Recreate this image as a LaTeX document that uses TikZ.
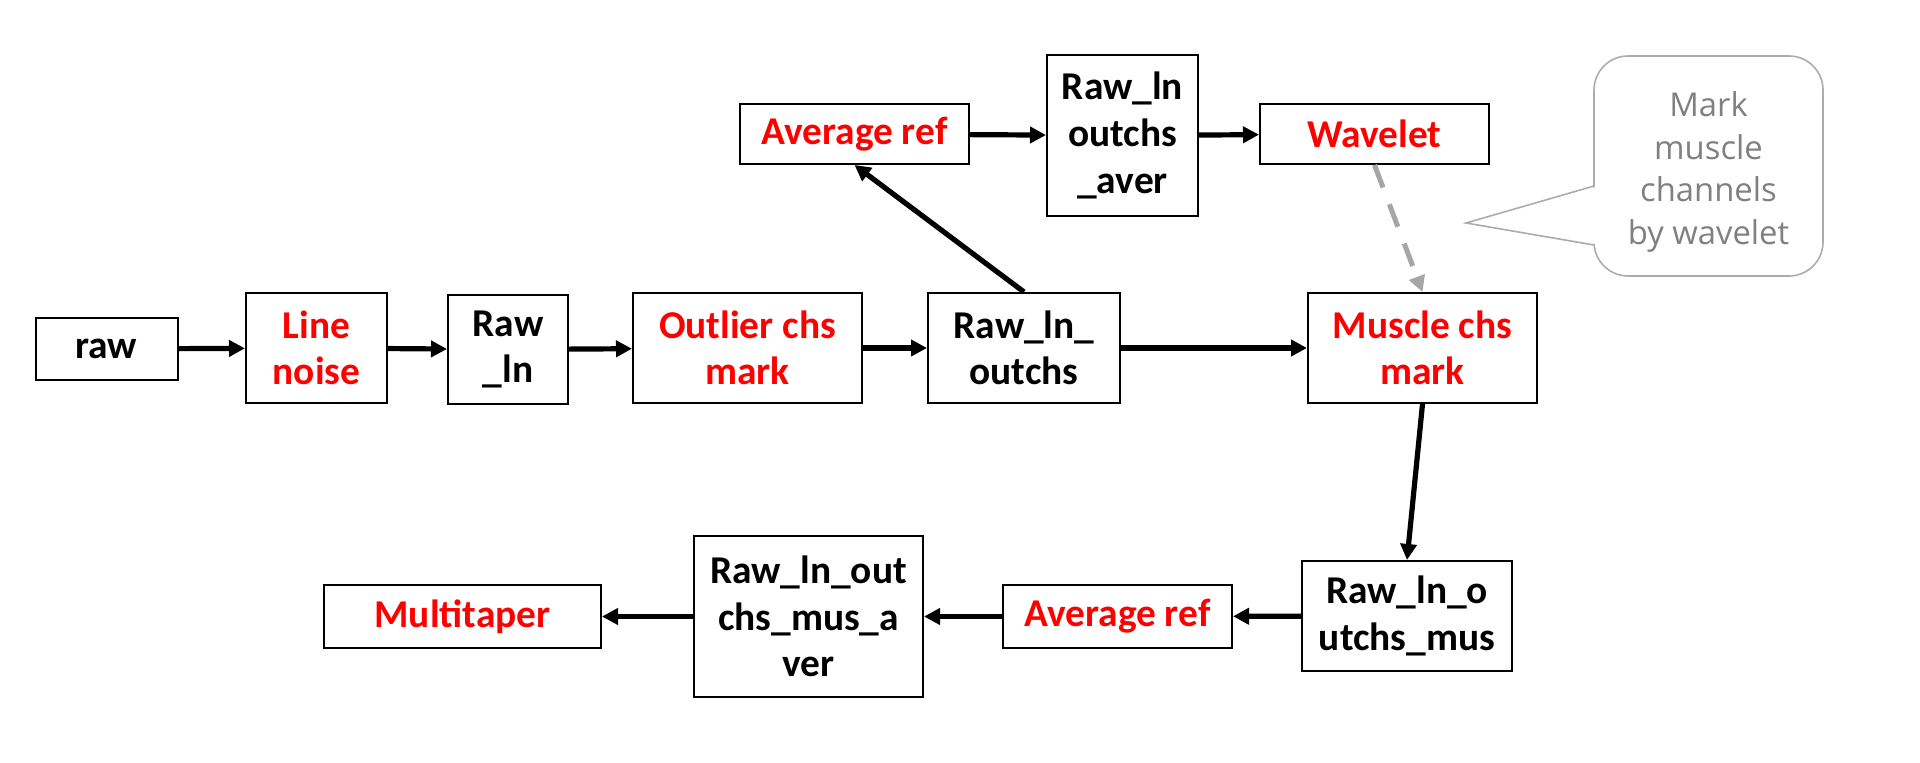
\documentclass[tikz,border=0pt]{standalone}
\usepackage{fontspec}
\setmainfont{Carlito}
\newfontfamily\notefont{Open Sans}
\usetikzlibrary{arrows.meta}
\definecolor{notegray}{RGB}{128,128,128}
\definecolor{linegray}{RGB}{172,172,172}
\definecolor{dashgray}{RGB}{166,166,166}

\begin{document}
\begin{tikzpicture}[x=.5pt,y=-.5pt,
  box/.style={draw,line width=1pt,inner sep=0pt,align=center,font=\fontsize{19.7}{23.3}\selectfont\bfseries},
  hot/.style={box,text=red},
  arr/.style={line width=2.6pt,-{Triangle[length=8pt,width=8pt]}}]
\useasboundingbox (0,0) rectangle (1920,763);
% first row
\node[box,minimum width=71pt,minimum height=31pt] (raw) at (106.5,349) {raw};
\node[hot,minimum width=70.5pt,minimum height=55pt] (line) at (316.5,348) {Line\\noise};
\node[box,minimum width=60pt,minimum height=54.5pt] (rawln) at (508,349.5) {Raw\\\_ln};
\node[hot,minimum width=114.5pt,minimum height=55pt] (outlier) at (747.5,348) {Outlier chs\\mark};
\node[box,minimum width=96pt,minimum height=55pt] (outchs) at (1024,348) {Raw\_ln\_\\outchs};
\node[hot,minimum width=114.5pt,minimum height=55pt] (muscle) at (1422.5,348) {Muscle chs\\mark};
% upper branch
\node[hot,minimum width=114.5pt,minimum height=30pt] (avgtop) at (854.5,134) {Average ref};
\node[box,minimum width=75.5pt,minimum height=80.5pt] (aver) at (1122.5,135.5) {Raw\_ln\\outchs\\\_aver};
\node[hot,minimum width=114.5pt,minimum height=30pt] (wavelet) at (1374.5,134) {Wavelet};
% lower row
\node[box,minimum width=105pt,minimum height=55pt] (mus) at (1407,616) {Raw\_ln\_o\\utchs\_mus};
\node[hot,minimum width=114.5pt,minimum height=31.5pt] (avgbot) at (1117.5,616.5) {Average ref};
\node[box,minimum width=114.5pt,minimum height=80.5pt] (musaver) at (808.5,616.5) {Raw\_ln\_out\\chs\_mus\_a\\ver};
\node[hot,minimum width=138.5pt,minimum height=31.5pt] (multi) at (462.5,616.5) {Multitaper};
% callout
\draw[linegray,line width=.8pt,rounded corners=17pt] (1594,56) rectangle (1823,276);
\node[align=center,text=notegray,font=\notefont\fontsize{16.4}{21.4}\selectfont] (note) at (1708.5,172)
  {Mark\\muscle\\channels\\by wavelet};
\coordinate (tip) at (1466,223);
\fill[white] (1596,187) -- (tip) -- (1596,244) -- cycle;
\draw[linegray,line width=.8pt] (1594,186) -- (tip) -- (1594,245);
% connectors
\draw[arr] (raw) -- (line);
\draw[arr] (line) -- (rawln);
\draw[arr] (rawln) -- (outlier);
\draw[arr] (outlier) -- (outchs);
\draw[arr] (outchs) -- (muscle);
\draw[arr] (outchs.north) -- (avgtop.south);
\draw[arr] (avgtop) -- (aver);
\draw[arr] (aver) -- (wavelet);
\draw[arr,dashgray,line width=2.5pt,dash pattern=on 12pt off 9pt] (wavelet.south) -- (muscle.north);
\draw[arr] (muscle.south) -- (mus.north);
\draw[arr] (mus) -- (avgbot);
\draw[arr] (avgbot) -- (musaver);
\draw[arr] (musaver) -- (multi);
\end{tikzpicture}
\end{document}
